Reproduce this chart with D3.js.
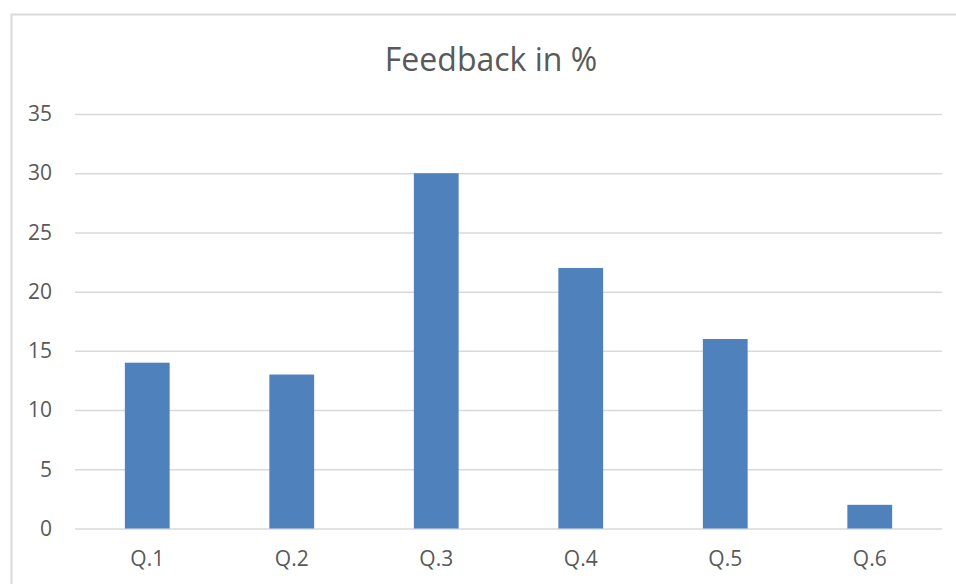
<!DOCTYPE html>
<html>
<head>
<meta charset="utf-8">
<title>Feedback in %</title>
<script src="https://d3js.org/d3.v7.min.js"></script>
<style>
  body { margin: 0; background: #fff; }
  text { font-family: "Open Sans", sans-serif; fill: #595959; }
</style>
</head>
<body>
<div id="chart"></div>
<script>
// chart data
const questions = ["Q.1", "Q.2", "Q.3", "Q.4", "Q.5", "Q.6"];
const feedback = [14, 13, 30, 22, 16, 2];
const yTicks = [0, 5, 10, 15, 20, 25, 30, 35];

const W = 956, H = 584;
const plot = { left: 75, right: 942, top: 114, bottom: 528.5 };

const svg = d3.select("#chart").append("svg")
    .attr("width", W)
    .attr("height", H);

// outer chart frame (runs off the picture on right and bottom)
svg.append("rect")
    .attr("x", 11.5).attr("y", 14.5)
    .attr("width", 980).attr("height", 620)
    .attr("fill", "none")
    .attr("stroke", "#d9d9d9")
    .attr("stroke-width", 2);

// title
svg.append("text")
    .attr("x", 491)
    .attr("y", 71)
    .attr("text-anchor", "middle")
    .style("font-size", "32px")
    .text("Feedback in %");

// scales
const x = d3.scaleBand()
    .domain(questions)
    .range([plot.left, plot.right])
    .paddingInner(0.69)
    .paddingOuter(0.345);

const y = d3.scaleLinear()
    .domain([0, 35])
    .range([plot.bottom, plot.top]);

// grid lines + y labels
const yAxis = svg.append("g")
    .attr("transform", `translate(${plot.left},0)`)
    .call(d3.axisLeft(y).tickValues(yTicks)
        .tickSize(-(plot.right - plot.left))
        .tickPadding(23));
yAxis.select(".domain").remove();
yAxis.selectAll(".tick line")
    .attr("stroke", "#d9d9d9")
    .attr("stroke-width", 1.5);
yAxis.selectAll(".tick text")
    .style("font-size", "21px")
    .attr("fill", "#595959");

// bars
svg.selectAll("rect.bar")
    .data(feedback)
    .enter().append("rect")
    .attr("class", "bar")
    .attr("x", (d, i) => x(questions[i]))
    .attr("y", d => y(d))
    .attr("width", x.bandwidth())
    .attr("height", d => y(0) - y(d))
    .attr("fill", "#4f81bd");

// x labels
const xAxis = svg.append("g")
    .attr("transform", `translate(0,${plot.bottom})`)
    .call(d3.axisBottom(x).tickSize(0).tickPadding(23));
xAxis.select(".domain").remove();
xAxis.selectAll(".tick text")
    .style("font-size", "21px")
    .attr("fill", "#595959");
</script>
</body>
</html>
